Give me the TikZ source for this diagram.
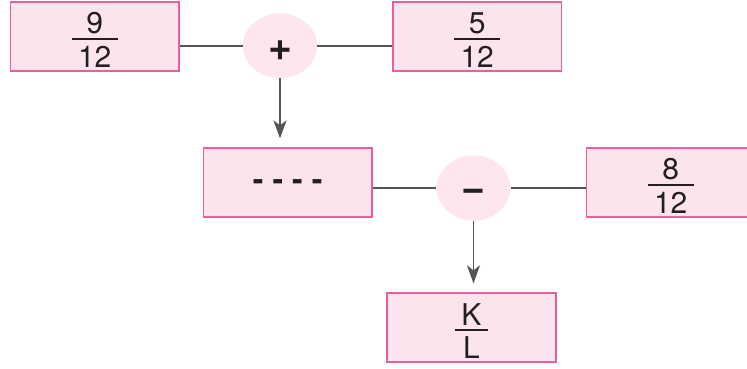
\documentclass[tikz,border=0pt]{standalone}
\usepackage{fontspec}
\setmainfont{TeX Gyre Heros}
\usetikzlibrary{shapes.geometric,arrows.meta}
\definecolor{boxfill}{HTML}{FCE4EE}
\definecolor{boxline}{HTML}{EC5C9E}
\definecolor{opfill}{HTML}{FDE6EE}
\definecolor{connc}{HTML}{555555}
\definecolor{ink}{HTML}{231F20}
\newcommand\myfr[2]{\vbox{\offinterlineskip\kern7pt\halign{\hfil##\hfil\cr\hspace*{6.3pt}#1\hspace*{6.3pt}\cr\noalign{\kern4pt\hrule height 2pt\kern6pt}\hspace*{6.3pt}#2\hspace*{6.3pt}\cr}}}
\begin{document}
\begin{tikzpicture}[x=1pt,y=-1pt,
  fbox/.style={draw=boxline, fill=boxfill, line width=1.8pt, minimum width=168.5pt, minimum height=68.5pt, inner sep=0pt, text=ink, font=\fontsize{30}{36}\selectfont},
  opnode/.style={ellipse, fill=opfill, minimum width=74pt, minimum height=65pt, inner sep=0pt, text=ink, font=\fontsize{41}{48}\selectfont\bfseries},
  connline/.style={draw=connc, line width=1.8pt},
  arr/.style={connline, -{Stealth[length=18pt,width=13pt,inset=5pt]}, shorten >=9pt}]
\useasboundingbox (0,0) rectangle (747,369);
\node[fbox] (b1) at (94.7,36.5) {\myfr{9}{12}};
\node[fbox] (b2) at (477.2,36.5) {\myfr{5}{12}};
\node[opnode] (plus) at (280,45.7) {\vbox{\kern10pt\hbox{+}}};
\node[fbox] (b3) at (287.7,182.5) {\vbox{\kern6pt\hbox{\fontsize{32}{36}\selectfont\bfseries -\hspace{9pt}-\hspace{9pt}-\hspace{9pt}-}}};
\node[opnode] (minus) at (473.5,188) {\vbox{\kern14pt\hbox{\char"2212}}};
\node[fbox] (b4) at (670.7,182.5) {\myfr{8}{12}};
\node[fbox] (b5) at (471.5,327.5) {\myfr{K}{L}};
\draw[connline] (plus.west -| b1.east) -- (plus.west);
\draw[connline] (plus.east) -- (plus.east -| b2.west);
\draw[connline] (minus.west -| b3.east) -- (minus.west);
\draw[connline] (minus.east) -- (minus.east -| b4.west);
\draw[arr] (plus.south) -- (plus.south |- b3.north);
\draw[arr] (minus.south) -- (minus.south |- b5.north);
\end{tikzpicture}
\end{document}
